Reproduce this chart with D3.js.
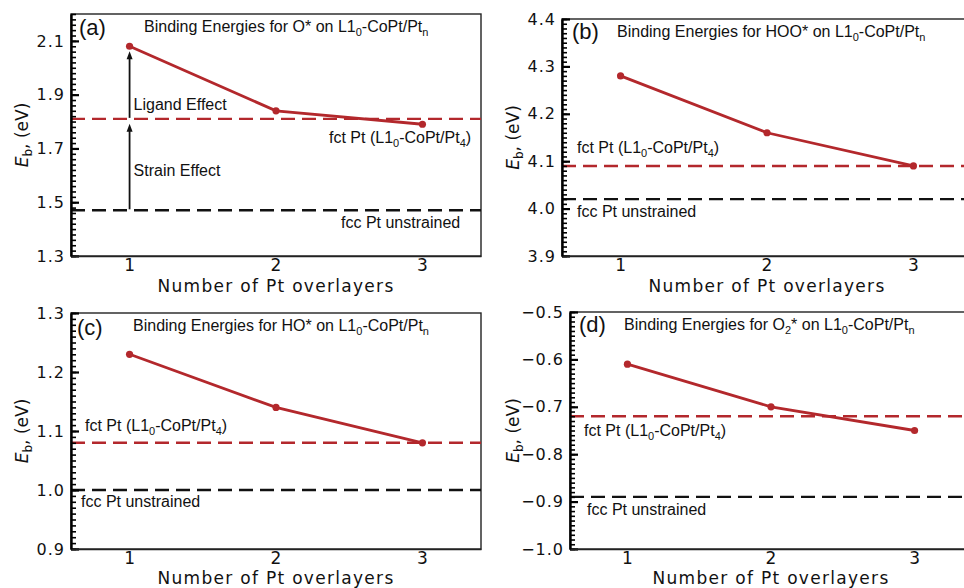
<!DOCTYPE html>
<html>
<head>
<meta charset="utf-8">
<script src="https://cdn.jsdelivr.net/npm/d3@7"></script>
<style>
  body { margin: 0; background: #fff; }
  svg { display: block; }
  .tick text { font-family: "DejaVu Sans", sans-serif; font-size: 16px; letter-spacing: 1px; fill: #111; }
  .xt .tick text { font-size: 17px; }
  .note { font-family: "Liberation Sans", Arial, sans-serif; font-size: 16px; fill: #111; }
  .tag { font-family: "Liberation Sans", Arial, sans-serif; font-size: 22px; fill: #111; }
  .xlab { font-family: "DejaVu Sans", sans-serif; font-size: 17px; letter-spacing: 1.3px; fill: #111; }
  .ylab { font-family: "DejaVu Sans", sans-serif; font-size: 17px; fill: #111; }
</style>
</head>
<body>
<div id="chart"></div>
<script>
// values
var tags = ["(a)", "(b)", "(c)", "(d)"];
var overlayers = [1, 2, 3];
var bindO   = [2.08, 1.84, 1.79];
var bindHOO = [4.28, 4.16, 4.09];
var bindHO  = [1.23, 1.14, 1.08];
var bindO2  = [-0.61, -0.70, -0.75];
var series = [bindO, bindHOO, bindHO, bindO2];
var fctPt = [1.81, 4.09, 1.08, -0.72];
var fccPt = [1.47, 4.02, 1.00, -0.89];
var yDomains = [[1.3, 2.2], [3.9, 4.4], [0.9, 1.3], [-1.0, -0.5]];
var yTicks = [
  [1.3, 1.5, 1.7, 1.9, 2.1],
  [3.9, 4.0, 4.1, 4.2, 4.3, 4.4],
  [0.9, 1.0, 1.1, 1.2, 1.3],
  [-1.0, -0.9, -0.8, -0.7, -0.6, -0.5]
];
var minorSteps = [0.02, 0.01, 0.01, 0.01];
var xDomain = [0.6, 3.4];
// adsorbate names: [text, subscript] pieces
var adsorbates = [
  [["O*", ""]],
  [["HOO*", ""]],
  [["HO*", ""]],
  [["O", ""], ["2", "sub"], ["*", ""]]
];

// where each panel sits on the page
var layout = [
  {left: 71,  right: 481, top: 14,  bottom: 256, ylab: 28,  xlab: 292, tag: [79, 35],   title: [144, 31.7], fct: [329, 142.7], fcc: [341, 228.3]},
  {left: 562, right: 972, top: 19,  bottom: 256, ylab: 519, xlab: 292, tag: [572, 39],  title: [617, 36.7], fct: [577, 153.3], fcc: [577, 216.7]},
  {left: 71,  right: 481, top: 313, bottom: 549, ylab: 28,  xlab: 584, tag: [77, 335],  title: [133, 331],  fct: [85, 430.7],  fcc: [81, 507.3]},
  {left: 570, right: 972, top: 312, bottom: 549, ylab: 519, xlab: 584, tag: [579, 332], title: [624, 330],  fct: [584, 435.7], fcc: [587, 515]}
];

var red = "#b3282c";

var svg = d3.select("#chart").append("svg")
  .attr("width", 964)
  .attr("height", 588);

// writes text with subscript pieces
function rich(sel, parts) {
  var shifted = false;
  parts.forEach(function(p) {
    var t = sel.append("tspan").text(p[0]);
    if (p[1] == "sub" && !shifted) {
      t.attr("font-size", "11px").attr("dy", 4);
      shifted = true;
    } else if (p[1] != "sub" && shifted) {
      t.attr("dy", -4);
      shifted = false;
    } else if (p[1] == "sub") {
      t.attr("font-size", "11px");
    }
  });
}

layout.forEach(function(L, i) {
  var x = d3.scaleLinear().domain(xDomain).range([L.left, L.right]);
  var y = d3.scaleLinear().domain(yDomains[i]).range([L.bottom, L.top]);
  var g = svg.append("g");

  // frame
  g.append("rect")
    .attr("x", L.left).attr("y", L.top)
    .attr("width", L.right - L.left).attr("height", L.bottom - L.top)
    .attr("fill", "none").attr("stroke", "#222").attr("stroke-width", 1.4);

  // reference lines
  [[fccPt[i], "#111"], [fctPt[i], red]].forEach(function(r) {
    g.append("line")
      .attr("x1", x(xDomain[0])).attr("x2", x(xDomain[1]))
      .attr("y1", y(r[0])).attr("y2", y(r[0]))
      .attr("stroke", r[1]).attr("stroke-width", 2.4)
      .attr("stroke-dasharray", "14,7");
  });

  // minor ticks
  var minor = d3.range(yDomains[i][0], yDomains[i][1] + 1e-9, minorSteps[i]);
  var mg = g.append("g")
    .attr("transform", "translate(" + L.left + ",0)")
    .call(d3.axisLeft(y).tickValues(minor).tickSize(-5).tickFormat(""));
  mg.select(".domain").remove();
  mg.selectAll(".tick line").attr("stroke", "#000").attr("stroke-width", 1.6);

  // major ticks + labels
  var ya = g.append("g")
    .attr("transform", "translate(" + L.left + ",0)")
    .call(d3.axisLeft(y).tickValues(yTicks[i]).tickSize(-8).tickSizeOuter(0)
      .tickPadding(6).tickFormat(d3.format(".1f")));
  ya.select(".domain").attr("stroke", "#000").attr("stroke-width", 2.4);
  ya.selectAll(".tick line").attr("stroke", "#000").attr("stroke-width", 2.2);

  var xa = g.append("g")
    .attr("class", "xt")
    .attr("transform", "translate(0," + L.bottom + ")")
    .call(d3.axisBottom(x).tickValues(overlayers).tickSize(0).tickSizeOuter(0)
      .tickPadding(3).tickFormat(d3.format("d")));
  xa.select(".domain").attr("stroke", "#222").attr("stroke-width", 1.4);

  // series
  var line = d3.line().x(function(d, k) { return x(overlayers[k]); }).y(function(d) { return y(d); });
  g.append("path")
    .datum(series[i])
    .attr("d", line)
    .attr("fill", "none").attr("stroke", red).attr("stroke-width", 2.8);
  g.selectAll(".dot")
    .data(series[i])
    .enter()
    .append("circle")
    .attr("cx", function(d, k) { return x(overlayers[k]); })
    .attr("cy", function(d) { return y(d); })
    .attr("r", 3.6)
    .attr("fill", red);

  // labels
  g.append("text").attr("class", "xlab")
    .attr("x", x(2))
    .attr("y", L.xlab)
    .attr("text-anchor", "middle")
    .text("Number of Pt overlayers");

  var yl = g.append("text").attr("class", "ylab")
    .attr("transform", "translate(" + L.ylab + "," + (L.top + L.bottom) / 2 + ") rotate(-90)")
    .attr("text-anchor", "middle");
  yl.append("tspan").attr("font-style", "italic").text("E");
  yl.append("tspan").attr("font-size", "12px").attr("dy", 4).text("b");
  yl.append("tspan").attr("dy", -4).text(", (eV)");

  g.append("text").attr("class", "tag")
    .attr("x", L.tag[0]).attr("y", L.tag[1]).text(tags[i]);

  var title = g.append("text").attr("class", "note")
    .attr("x", L.title[0]).attr("y", L.title[1]);
  rich(title, [["Binding Energies for ", ""]].concat(adsorbates[i])
    .concat([[" on L1", ""], ["0", "sub"], ["-CoPt/Pt", ""], ["n", "sub"]]));

  var fct = g.append("text").attr("class", "note")
    .attr("x", L.fct[0]).attr("y", L.fct[1]);
  rich(fct, [["fct Pt (L1", ""], ["0", "sub"], ["-CoPt/Pt", ""], ["4", "sub"], [")", ""]]);

  g.append("text").attr("class", "note")
    .attr("x", L.fcc[0]).attr("y", L.fcc[1])
    .text("fcc Pt unstrained");

  // strain / ligand arrows only in (a)
  if (i == 0) {
    var spans = [[fccPt[0], fctPt[0], "Strain Effect", 176], [fctPt[0], bindO[0], "Ligand Effect", 110]];
    var ax = x(overlayers[0]);
    spans.forEach(function(s) {
      var y1 = y(s[0]) - 1, tip = y(s[1]) + 5;
      g.append("line")
        .attr("x1", ax).attr("x2", ax)
        .attr("y1", y1).attr("y2", tip + 6)
        .attr("stroke", "#111").attr("stroke-width", 1.8);
      g.append("path")
        .attr("d", "M" + ax + "," + tip + "L" + (ax - 3) + "," + (tip + 8) + "L" + (ax + 3) + "," + (tip + 8) + "Z")
        .attr("fill", "#111");
      g.append("text").attr("class", "note")
        .attr("x", ax + 4).attr("y", s[3])
        .text(s[2]);
    });
  }
});
</script>
</body>
</html>
